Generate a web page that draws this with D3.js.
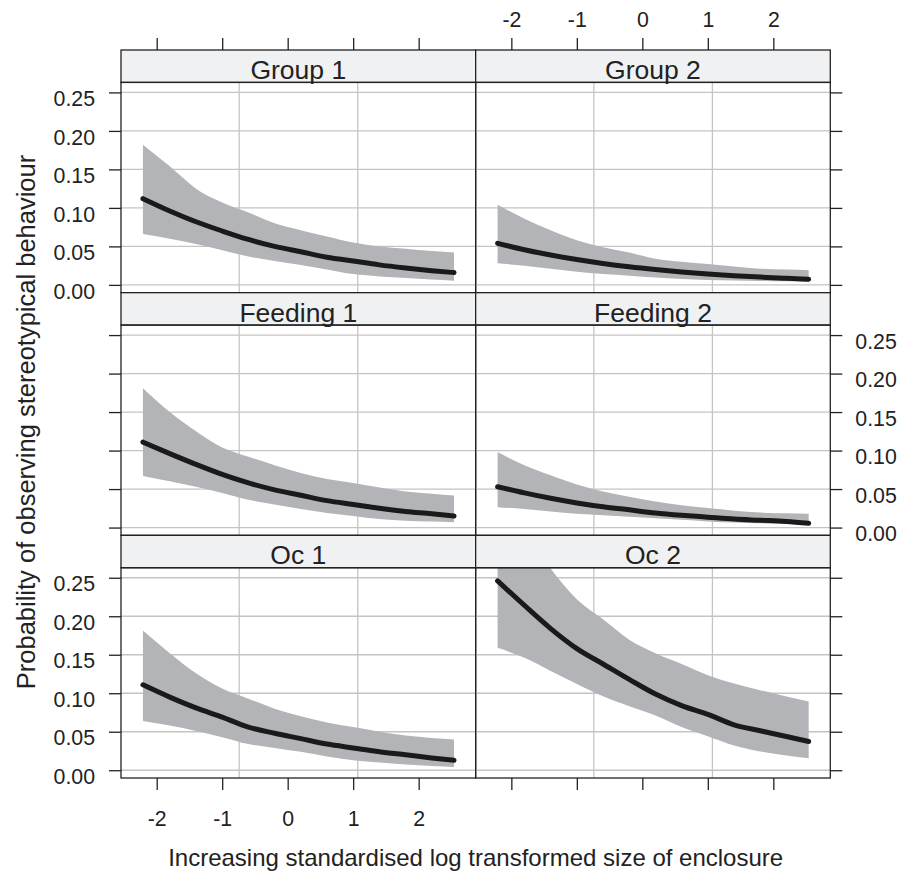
<!DOCTYPE html>
<html>
<head>
<meta charset="utf-8">
<script src="https://cdn.jsdelivr.net/npm/d3@7"></script>
<style>
  body { margin: 0; background: #fff; }
  text { font-family: 'Liberation Sans', Arial, sans-serif; fill: #222; }
</style>
</head>
<body>
<div id="chart"></div>
<script>
// data
const panelNames = ['Group 1', 'Group 2', 'Feeding 1', 'Feeding 2', 'Oc 1', 'Oc 2']
const sizeValues = [-2.21, -1.8, -1.4, -1.0, -0.6, -0.2, 0.2, 0.6, 1.0, 1.4, 1.8, 2.2, 2.54]
const xTicks = [-2, -1, 0, 1, 2]
const yTicks = [0, 0.05, 0.10, 0.15, 0.20, 0.25]
const xGridLines = [-0.74, 1.07]

const group1Fit = [0.112, 0.096, 0.082, 0.070, 0.059, 0.050, 0.043, 0.036, 0.031, 0.026, 0.022, 0.0185, 0.016]
const group1Lo = [0.066, 0.060, 0.053, 0.045, 0.037, 0.031, 0.026, 0.020, 0.014, 0.011, 0.009, 0.007, 0.0055]
const group1Hi = [0.182, 0.154, 0.125, 0.107, 0.094, 0.080, 0.071, 0.063, 0.055, 0.050, 0.047, 0.044, 0.042]

const group2Fit = [0.054, 0.0457, 0.0388, 0.0329, 0.0278, 0.0235, 0.0199, 0.0168, 0.0142, 0.012, 0.0101, 0.0085, 0.0073]
const group2Lo = [0.028, 0.025, 0.021, 0.017, 0.014, 0.012, 0.0095, 0.0078, 0.0065, 0.0057, 0.005, 0.0046, 0.0043]
const group2Hi = [0.104, 0.086, 0.071, 0.058, 0.049, 0.042, 0.034, 0.030, 0.027, 0.024, 0.021, 0.020, 0.019]

const feeding1Fit = [0.111, 0.096, 0.082, 0.069, 0.058, 0.049, 0.042, 0.035, 0.030, 0.025, 0.021, 0.018, 0.015]
const feeding1Lo = [0.067, 0.060, 0.053, 0.045, 0.036, 0.030, 0.024, 0.019, 0.015, 0.011, 0.009, 0.008, 0.007]
const feeding1Hi = [0.181, 0.150, 0.125, 0.104, 0.092, 0.081, 0.071, 0.063, 0.058, 0.052, 0.047, 0.044, 0.0416]

const feeding2Fit = [0.053, 0.045, 0.038, 0.032, 0.027, 0.023, 0.019, 0.016, 0.0135, 0.011, 0.0095, 0.008, 0.0057]
const feeding2Lo = [0.0265, 0.024, 0.021, 0.018, 0.016, 0.014, 0.012, 0.010, 0.008, 0.0065, 0.0055, 0.0045, 0.0035]
const feeding2Hi = [0.098, 0.081, 0.068, 0.056, 0.047, 0.040, 0.034, 0.029, 0.0255, 0.022, 0.0195, 0.0185, 0.018]

const oc1Fit = [0.111, 0.095, 0.081, 0.069, 0.056, 0.048, 0.041, 0.034, 0.029, 0.024, 0.020, 0.016, 0.013]
const oc1Lo = [0.064, 0.058, 0.051, 0.043, 0.034, 0.029, 0.024, 0.018, 0.013, 0.010, 0.0075, 0.0055, 0.0043]
const oc1Hi = [0.1816, 0.152, 0.126, 0.106, 0.093, 0.080, 0.070, 0.062, 0.056, 0.050, 0.045, 0.042, 0.040]

const oc2Fit = [0.246, 0.214, 0.184, 0.158, 0.138, 0.118, 0.099, 0.084, 0.0726, 0.059, 0.0513, 0.0438, 0.0373]
const oc2Lo = [0.159, 0.146, 0.129, 0.112, 0.096, 0.083, 0.071, 0.056, 0.044, 0.032, 0.0243, 0.019, 0.0156]
const oc2Hi = [0.36, 0.31, 0.262, 0.222, 0.196, 0.1695, 0.152, 0.138, 0.1235, 0.1125, 0.104, 0.0958, 0.0894]

const fits = [group1Fit, group2Fit, feeding1Fit, feeding2Fit, oc1Fit, oc2Fit]
const lows = [group1Lo, group2Lo, feeding1Lo, feeding2Lo, oc1Lo, oc2Lo]
const highs = [group1Hi, group2Hi, feeding1Hi, feeding2Hi, oc1Hi, oc2Hi]

const width = 902
const height = 872
const layout = { left: 121, top: 50, colWidth: 354.65, rowHeight: 242.67, strip: 32.4 }

const svg = d3.select('#chart')
  .append('svg')
  .attr('width', width)
  .attr('height', height)

const panels = panelNames.map((name, i) => ({
  name,
  col: i % 2,
  row: Math.floor(i / 2),
  points: sizeValues.map((x, j) => ({ x, fit: fits[i][j], lo: lows[i][j], hi: highs[i][j] }))
}))

// plain hyphen minus, like the original figure
const xLabel = d => String(d)

panels.forEach((p, i) => {
  const x0 = layout.left + p.col * layout.colWidth
  const y0 = layout.top + p.row * layout.rowHeight
  const plotTop = y0 + layout.strip
  const plotBottom = y0 + layout.rowHeight

  const x = d3.scaleLinear().domain([-2.545, 2.87]).range([x0, x0 + layout.colWidth])
  const y = d3.scaleLinear().domain([-0.0101, 0.263]).range([plotBottom, plotTop])

  const g = svg.append('g').attr('class', 'panel')

  g.append('clipPath')
    .attr('id', 'clip' + i)
    .append('rect')
    .attr('x', x0)
    .attr('y', plotTop)
    .attr('width', layout.colWidth)
    .attr('height', plotBottom - plotTop)

  // grid
  g.append('g')
    .selectAll('line')
    .data(yTicks)
    .enter()
    .append('line')
    .attr('x1', x0)
    .attr('x2', x0 + layout.colWidth)
    .attr('y1', d => y(d))
    .attr('y2', d => y(d))
    .attr('stroke', '#c4c4c4')
    .attr('stroke-width', 1.3)
  g.append('g')
    .selectAll('line')
    .data(xGridLines)
    .enter()
    .append('line')
    .attr('x1', d => x(d))
    .attr('x2', d => x(d))
    .attr('y1', plotTop)
    .attr('y2', plotBottom)
    .attr('stroke', '#c4c4c4')
    .attr('stroke-width', 1.3)

  const body = g.append('g').attr('clip-path', `url(#clip${i})`)

  body.append('path')
    .datum(p.points)
    .attr('fill', '#b3b4b7')
    .attr('d', d3.area()
      .x(d => x(d.x))
      .y0(d => y(d.lo))
      .y1(d => y(d.hi))
      .curve(d3.curveMonotoneX))

  body.append('path')
    .datum(p.points)
    .attr('fill', 'none')
    .attr('stroke', '#1a1a1a')
    .attr('stroke-width', 5)
    .attr('stroke-linecap', 'round')
    .attr('d', d3.line()
      .x(d => x(d.x))
      .y(d => y(d.fit))
      .curve(d3.curveMonotoneX))

  // strip
  g.append('rect')
    .attr('x', x0)
    .attr('y', y0)
    .attr('width', layout.colWidth)
    .attr('height', layout.strip)
    .attr('fill', '#f0f1f2')
    .attr('stroke', '#222')
    .attr('stroke-width', 1.3)
  g.append('text')
    .attr('x', x0 + layout.colWidth / 2)
    .attr('y', y0 + 29)
    .attr('text-anchor', 'middle')
    .style('font-size', '26.5px')
    .text(p.name)

  g.append('rect')
    .attr('x', x0)
    .attr('y', plotTop)
    .attr('width', layout.colWidth)
    .attr('height', plotBottom - plotTop)
    .attr('fill', 'none')
    .attr('stroke', '#222')
    .attr('stroke-width', 1.3)

  // axes, lattice style: alternating labels
  const styleAxis = (sel, dy) => {
    sel.select('.domain').remove()
    sel.selectAll('.tick line').attr('stroke', '#222').attr('stroke-width', 1.3)
    sel.selectAll('.tick text').style('font-size', '21.3px').attr('fill', '#222')
    if (dy) sel.selectAll('.tick text').attr('dy', dy)
  }

  if (p.row === 0) {
    svg.append('g')
      .attr('transform', `translate(0,${y0})`)
      .call(d3.axisTop(x).tickValues(xTicks).tickSize(12).tickPadding(11)
        .tickFormat(p.col === 1 ? xLabel : ''))
      .call(styleAxis)
  }
  if (p.row === 2) {
    svg.append('g')
      .attr('transform', `translate(0,${plotBottom})`)
      .call(d3.axisBottom(x).tickValues(xTicks).tickSize(12).tickPadding(21)
        .tickFormat(p.col === 0 ? xLabel : ''))
      .call(styleAxis)
  }
  if (p.col === 0) {
    svg.append('g')
      .attr('transform', `translate(${x0},0)`)
      .call(d3.axisLeft(y).tickValues(yTicks).tickSize(12).tickPadding(14)
        .tickFormat(p.row !== 1 ? d3.format('.2f') : ''))
      .call(styleAxis, '0.62em')
  }
  if (p.col === 1) {
    svg.append('g')
      .attr('transform', `translate(${x0 + layout.colWidth},0)`)
      .call(d3.axisRight(y).tickValues(yTicks).tickSize(12).tickPadding(13)
        .tickFormat(p.row === 1 ? d3.format('.2f') : ''))
      .call(styleAxis, '0.62em')
  }
})

const fullWidth = layout.colWidth * 2

svg.append('text')
  .attr('x', layout.left + fullWidth / 2)
  .attr('y', 866)
  .attr('text-anchor', 'middle')
  .style('font-size', '24px')
  .text('Increasing standardised log transformed size of enclosure')

svg.append('text')
  .attr('transform', 'translate(35,422) rotate(-90)')
  .attr('text-anchor', 'middle')
  .style('font-size', '25.5px')
  .text('Probability of observing stereotypical behaviour')
</script>
</body>
</html>
